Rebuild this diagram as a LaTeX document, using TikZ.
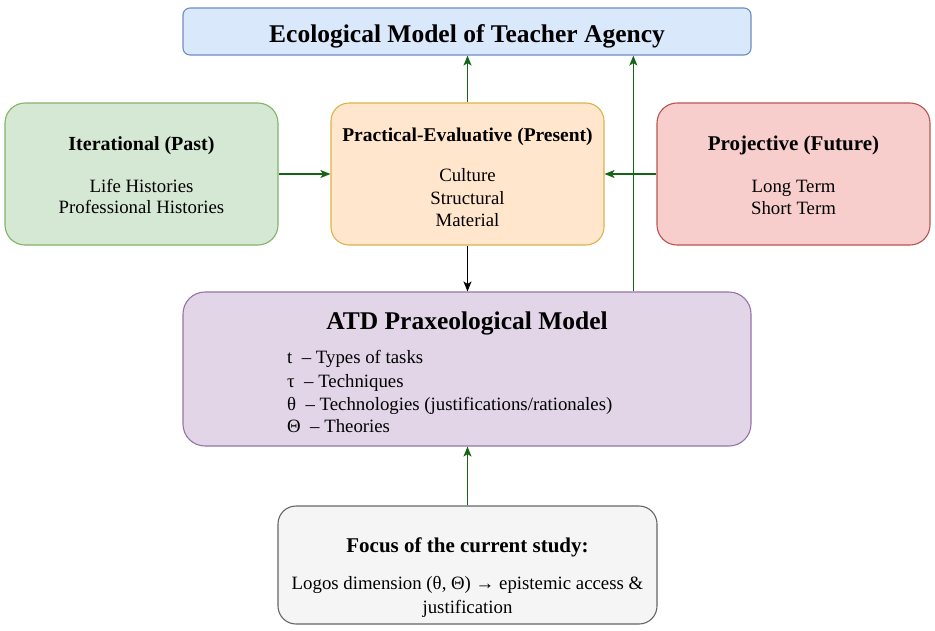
\documentclass[tikz,border=0pt]{standalone}
\usepackage{fontspec}
\setmainfont{Liberation Serif}
\usetikzlibrary{arrows.meta,calc}
\definecolor{bluefill}{HTML}{DAE8FC}\definecolor{blueline}{HTML}{6C8EBF}
\definecolor{greenfill}{HTML}{D5E8D4}\definecolor{greenline}{HTML}{82B366}
\definecolor{orangefill}{HTML}{FFE6CC}\definecolor{orangeline}{HTML}{D9B44A}
\definecolor{redfill}{HTML}{F8CECC}\definecolor{redline}{HTML}{B85450}
\definecolor{purplefill}{HTML}{E1D5E7}\definecolor{purpleline}{HTML}{9673A6}
\definecolor{grayfill}{HTML}{F5F5F5}\definecolor{grayline}{HTML}{666666}
\definecolor{arrowgreen}{RGB}{22,100,22}
\begin{document}
\begin{tikzpicture}[x=1pt,y=-1pt,
  box/.style={draw, line width=1.1pt, inner sep=0pt},
  txt/.style={anchor=base, inner sep=0pt},
  hd/.style={txt, font=\fontsize{20}{24}\selectfont\bfseries},
  bd/.style={txt, font=\fontsize{18.8}{22}\selectfont},
  garrow/.style={draw=arrowgreen, line width=1.5pt, -{Stealth[length=10pt,width=8pt,inset=2.5pt]}},
  karrow/.style={draw=black, line width=1.3pt, -{Stealth[length=10pt,width=8pt,inset=2.5pt]}}]
\useasboundingbox (0,0) rectangle (935,630);
% boxes
\node[box, fill=bluefill, draw=blueline, rounded corners=7pt, minimum width=568pt, minimum height=47pt] (top) at (467,31.5) {};
\node[box, fill=greenfill, draw=greenline, rounded corners=20pt, minimum width=273pt, minimum height=142pt] (iter) at (141.5,174) {};
\node[box, fill=orangefill, draw=orangeline, rounded corners=18pt, minimum width=273pt, minimum height=142pt] (prac) at (467.5,174) {};
\node[box, fill=redfill, draw=redline, rounded corners=20pt, minimum width=273pt, minimum height=142pt] (proj) at (793.5,174) {};
\node[box, fill=purplefill, draw=purpleline, rounded corners=22pt, minimum width=568pt, minimum height=154pt] (atd) at (467,369) {};
\node[box, fill=grayfill, draw=grayline, rounded corners=18pt, minimum width=379pt, minimum height=118pt] (focus) at (467.5,565) {};
% texts
\node[txt, font=\fontsize{25.5}{30}\selectfont\bfseries] (toptitle) at (467,42) {Ecological Model of Teacher Agency};
\node[hd] (iterh) at (141.5,150) {Iterational (Past)};
\node[bd] (iter1) at (141.5,192) {Life Histories};
\node[bd] (iter2) at (141.5,213) {Professional Histories};
\node[hd, font=\fontsize{19.5}{24}\selectfont\bfseries] (prach) at (467.5,141) {Practical-Evaluative (Present)};
\node[bd] (prac1) at (467.5,181) {Culture};
\node[bd] (prac2) at (467.5,204) {Structural};
\node[bd] (prac3) at (467.5,226) {Material};
\node[hd, font=\fontsize{21}{24}\selectfont\bfseries] (projh) at (793.5,150) {Projective (Future)};
\node[bd] (proj1) at (793.5,192) {Long Term};
\node[bd] (proj2) at (793.5,214) {Short Term};
\node[txt, font=\fontsize{25.5}{30}\selectfont\bfseries] (atdh) at (467,329) {ATD Praxeological Model};
\node[bd, anchor=base west] (atd1) at (287,363) {t \ – Types of tasks};
\node[bd, anchor=base west] (atd2) at (287,387) {τ \ – Techniques};
\node[bd, anchor=base west] (atd3) at (287,410) {θ \ – Technologies (justifications/rationales)};
\node[bd, anchor=base west] (atd4) at (287,432) {Θ \ – Theories};
\node[hd, font=\fontsize{21}{24}\selectfont\bfseries] (focush) at (467.5,552) {Focus of the current study:};
\node[bd] (focus1) at (467.5,589) {Logos dimension (θ, Θ) → epistemic access \&};
\node[bd] (focus2) at (467.5,613) {justification};
% connectors
\draw[garrow] (iter.east) -- (prac.west);
\draw[garrow] (proj.west) -- (prac.east);
\draw[karrow] (prac.south) -- (prac.south |- atd.north);
\draw[garrow] (prac.north) -- (prac.north |- top.south);
\coordinate (atdr) at ($(atd.north west)!0.7923!(atd.north east)$);
\draw[garrow] (atdr) -- (atdr |- top.south);
\draw[garrow] (focus.north) -- (focus.north |- atd.south);
\end{tikzpicture}
\end{document}
